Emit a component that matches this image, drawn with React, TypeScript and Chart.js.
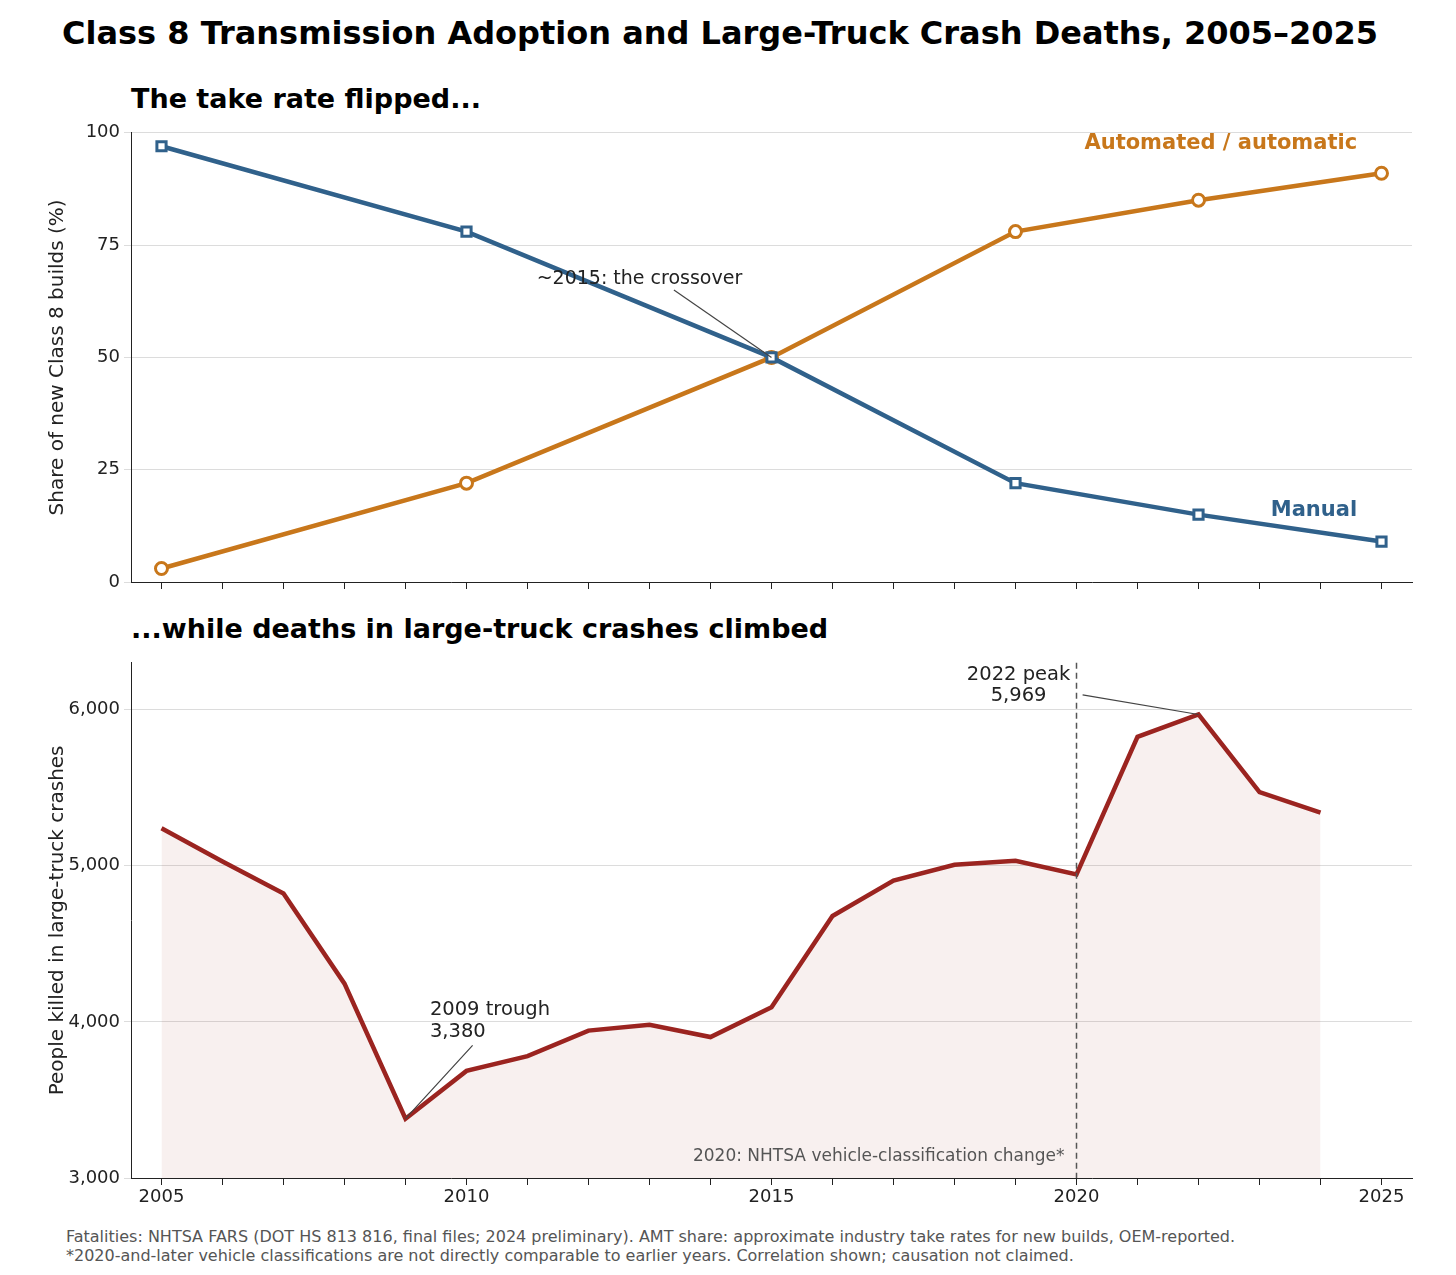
import React, { useEffect, useRef } from "react";
import { Chart, registerables } from "chart.js";
Chart.register(...registerables);

const shareYears = [2005, 2010, 2015, 2019, 2022, 2025];
const manualShare = [97, 78, 50, 22, 15, 9];
const autoShare = [3, 22, 50, 78, 85, 91];

const deathYears = [2005, 2006, 2007, 2008, 2009, 2010, 2011, 2012, 2013, 2014, 2015, 2016, 2017, 2018, 2019, 2020, 2021, 2022, 2023, 2024];
const deaths = [5240, 5027, 4822, 4245, 3380, 3686, 3781, 3944, 3981, 3903, 4094, 4678, 4905, 5006, 5032, 4945, 5826, 5969, 5472, 5340];

const BLUE = "#30618b";
const ORANGE = "#c8771b";
const RED = "#9b2420";
const FONT = "'DejaVu Sans', sans-serif";

const xBase = (labels: boolean, axisH: number) => ({
  type: "linear" as const,
  min: 2004.5,
  max: 2025.5,
  afterBuildTicks: (s: any) => {
    const t = [];
    for (let y = 2005; y <= 2025; y++) t.push({ value: y });
    s.ticks = t;
  },
  afterFit: (s: any) => { s.height = axisH; },
  grid: { drawOnChartArea: false, tickLength: 7, color: "#222" },
  border: { color: "#222" },
  ticks: {
    autoSkip: false,
    maxRotation: 0,
    color: "#222",
    font: { family: FONT, size: 18 },
    padding: 2,
    callback: (v: any) => (labels && v % 5 === 0 ? String(v) : ""),
  },
});

const yTitle = (text: string) => ({ display: true, text, color: "#222", font: { family: FONT, size: 20 }, padding: 0 });

function TopChart() {
  const ref = useRef<HTMLCanvasElement>(null);
  useEffect(() => {
    const annot = {
      id: "annTop",
      afterDatasetsDraw(c: any) {
        const ctx = c.ctx, x = c.scales.x, y = c.scales.y;
        ctx.save();
        ctx.font = `bold 21px ${FONT}`;
        ctx.textAlign = "right";
        ctx.textBaseline = "middle";
        ctx.fillStyle = ORANGE;
        ctx.fillText("Automated / automatic", x.getPixelForValue(2024.6), y.getPixelForValue(97.5));
        ctx.fillStyle = BLUE;
        ctx.fillText("Manual", x.getPixelForValue(2024.6), y.getPixelForValue(16));
        ctx.strokeStyle = "#444";
        ctx.lineWidth = 1.2;
        ctx.beginPath();
        ctx.moveTo(x.getPixelForValue(2013.4), y.getPixelForValue(65));
        ctx.lineTo(x.getPixelForValue(2015), y.getPixelForValue(50));
        ctx.stroke();
        ctx.font = `19px ${FONT}`;
        ctx.fillStyle = "#222";
        ctx.textAlign = "left";
        ctx.fillText("~2015: the crossover", x.getPixelForValue(2011.15), y.getPixelForValue(67.5));
        ctx.restore();
      },
    };
    const ch = new Chart(ref.current!, {
      type: "line",
      data: {
        datasets: [
          {
            data: shareYears.map((v, i) => ({ x: v, y: manualShare[i] })),
            borderColor: BLUE, borderWidth: 4.5, pointStyle: "rect", pointRadius: 6.5,
            pointBackgroundColor: "#fff", pointBorderColor: BLUE, pointBorderWidth: 3,
          },
          {
            data: shareYears.map((v, i) => ({ x: v, y: autoShare[i] })),
            borderColor: ORANGE, borderWidth: 4.5, pointStyle: "circle", pointRadius: 6,
            pointBackgroundColor: "#fff", pointBorderColor: ORANGE, pointBorderWidth: 3,
          },
        ],
      },
      options: {
        animation: false, responsive: false,
        layout: { padding: { top: 6, right: 44, left: 46, bottom: 0 } },
        plugins: { legend: { display: false }, tooltip: { enabled: false } },
        scales: {
          x: xBase(false, 16) as any,
          y: {
            min: 0, max: 100,
            afterFit: (s: any) => { s.width = 85; },
            afterBuildTicks: (s: any) => { s.ticks = [0, 25, 50, 75, 100].map((v) => ({ value: v })); },
            grid: { color: "#dcdcdc", tickLength: 7, drawTicks: true },
            border: { color: "#222" },
            ticks: { color: "#222", font: { family: FONT, size: 18 }, padding: 4 },
            title: yTitle("Share of new Class 8 builds (%)") as any,
          },
        },
      },
      plugins: [annot],
    });
    return () => ch.destroy();
  }, []);
  return <canvas ref={ref} width={1456} height={480} style={{ position: "absolute", left: 0, top: 118 }} />;
}

function BottomChart() {
  const ref = useRef<HTMLCanvasElement>(null);
  useEffect(() => {
    const annot = {
      id: "annBot",
      afterDatasetsDraw(c: any) {
        const ctx = c.ctx, x = c.scales.x, y = c.scales.y, a = c.chartArea;
        ctx.save();
        const x20 = x.getPixelForValue(2020);
        ctx.strokeStyle = "#555";
        ctx.lineWidth = 1.5;
        ctx.setLineDash([6, 4]);
        ctx.beginPath(); ctx.moveTo(x20, a.top); ctx.lineTo(x20, a.bottom); ctx.stroke();
        ctx.setLineDash([]);
        ctx.font = `17px ${FONT}`;
        ctx.fillStyle = "#555";
        ctx.textAlign = "right"; ctx.textBaseline = "middle";
        ctx.fillText("2020: NHTSA vehicle-classification change*", x20 - 12, y.getPixelForValue(3140));
        ctx.strokeStyle = "#444"; ctx.lineWidth = 1.2;
        ctx.beginPath();
        ctx.moveTo(x.getPixelForValue(2010.1), y.getPixelForValue(3850));
        ctx.lineTo(x.getPixelForValue(2009), y.getPixelForValue(3380));
        ctx.moveTo(x.getPixelForValue(2020.1), y.getPixelForValue(6095));
        ctx.lineTo(x.getPixelForValue(2022), y.getPixelForValue(5969));
        ctx.stroke();
        ctx.font = `19.5px ${FONT}`;
        ctx.fillStyle = "#222";
        ctx.textAlign = "left";
        ctx.fillText("2009 trough", x.getPixelForValue(2009.4), y.getPixelForValue(4075));
        ctx.fillText("3,380", x.getPixelForValue(2009.4), y.getPixelForValue(3935));
        ctx.textAlign = "center";
        ctx.fillText("2022 peak", x.getPixelForValue(2019.05), y.getPixelForValue(6225));
        ctx.fillText("5,969", x.getPixelForValue(2019.05), y.getPixelForValue(6085));
        ctx.restore();
      },
    };
    const ch = new Chart(ref.current!, {
      type: "line",
      data: {
        datasets: [
          {
            data: deathYears.map((v, i) => ({ x: v, y: deaths[i] })),
            borderColor: RED, borderWidth: 4.5, pointRadius: 0,
            fill: "start", backgroundColor: "rgba(155,36,32,0.07)",
          },
        ],
      },
      options: {
        animation: false, responsive: false,
        layout: { padding: { top: 6, right: 44, left: 46, bottom: 0 } },
        plugins: { legend: { display: false }, tooltip: { enabled: false } },
        scales: {
          x: xBase(true, 32) as any,
          y: {
            min: 3000, max: 6300,
            afterFit: (s: any) => { s.width = 85; },
            afterBuildTicks: (s: any) => { s.ticks = [3000, 4000, 5000, 6000].map((v) => ({ value: v })); },
            grid: { color: "#dcdcdc", tickLength: 7 },
            border: { color: "#222" },
            ticks: { color: "#222", font: { family: FONT, size: 18 }, padding: 4, callback: (v: any) => Number(v).toLocaleString("en-US") },
            title: yTitle("People killed in large-truck crashes") as any,
          },
        },
      },
      plugins: [annot],
    });
    return () => ch.destroy();
  }, []);
  return <canvas ref={ref} width={1456} height={562} style={{ position: "absolute", left: 0, top: 648 }} />;
}

export default function App() {
  const t: React.CSSProperties = { position: "absolute", fontFamily: FONT, fontWeight: "bold", color: "#000", whiteSpace: "nowrap" };
  return (
    <div style={{ position: "absolute", left: 0, top: 0, width: 1456, height: 1275, background: "#fff" }}>
      <div style={{ ...t, left: 0, width: 1440, textAlign: "center", top: 14, fontSize: 32 }}>
        Class 8 Transmission Adoption and Large-Truck Crash Deaths, 2005–2025
      </div>
      <div style={{ ...t, left: 131, top: 83, fontSize: 27 }}>The take rate flipped...</div>
      <div style={{ ...t, left: 131, top: 613, fontSize: 27 }}>...while deaths in large-truck crashes climbed</div>
      <TopChart />
      <BottomChart />
      <div style={{ position: "absolute", left: 66, top: 1227, fontFamily: FONT, fontSize: 16, color: "#555", lineHeight: "19px" }}>
        Fatalities: NHTSA FARS (DOT HS 813 816, final files; 2024 preliminary). AMT share: approximate industry take rates for new builds, OEM-reported.<br />
        *2020-and-later vehicle classifications are not directly comparable to earlier years. Correlation shown; causation not claimed.
      </div>
    </div>
  );
}
